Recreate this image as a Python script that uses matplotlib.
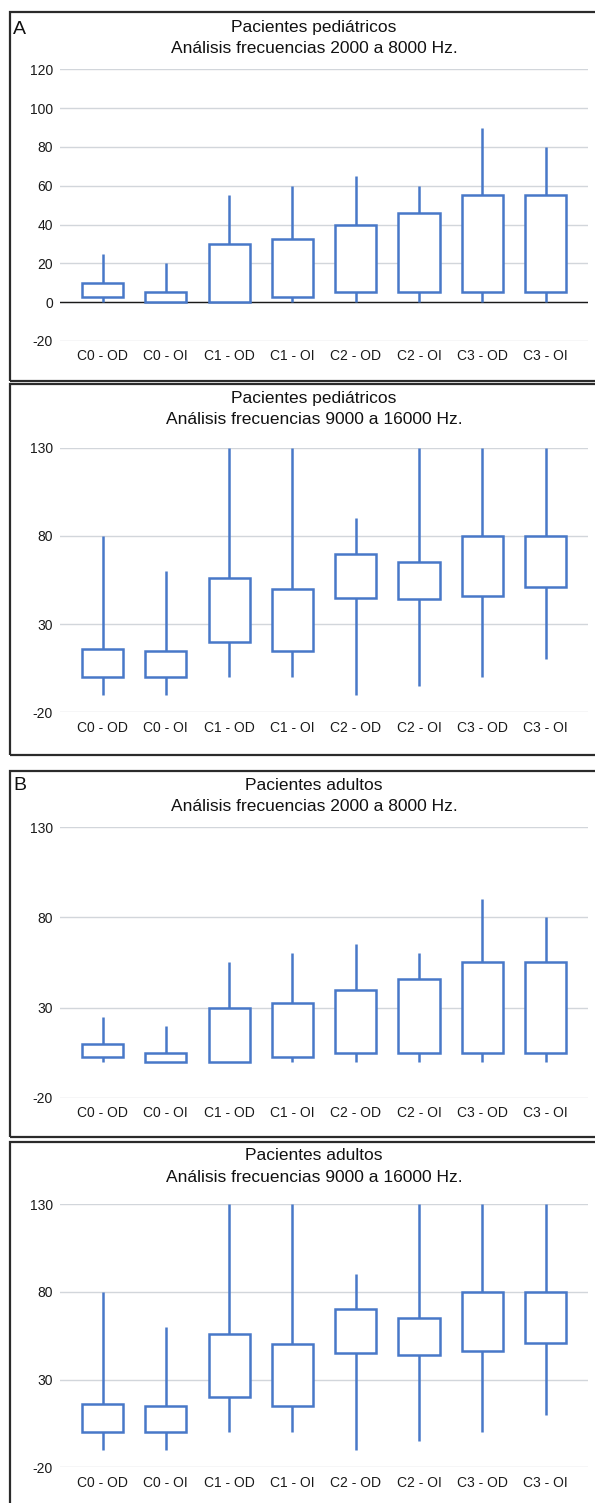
import matplotlib
matplotlib.use("Agg")
import matplotlib.pyplot as plt
from matplotlib.patches import Rectangle

plt.rcParams['font.family'] = ['Liberation Sans', 'DejaVu Sans']

categories = ["C0 - OD", "C0 - OI", "C1 - OD", "C1 - OI", "C2 - OD", "C2 - OI", "C3 - OD", "C3 - OI"]

# Pediatric 2000-8000 Hz
ped_lo_min = [0, 0, 0, 0, 0, 0, 0, 0]
ped_lo_q1 = [2.5, 0, 0, 2.5, 5, 5, 5, 5]
ped_lo_q3 = [10, 5, 30, 32.5, 40, 46, 55, 55]
ped_lo_max = [25, 20, 55, 60, 65, 60, 90, 80]

# Pediatric 9000-16000 Hz
ped_hi_min = [-10, -10, 0, 0, -10, -5, 0, 10]
ped_hi_q1 = [0, 0, 20, 15, 45, 44, 46, 51]
ped_hi_q3 = [16, 15, 56, 50, 70, 65, 80, 80]
ped_hi_max = [80, 60, 130, 130, 90, 130, 130, 130]

# Adult 2000-8000 Hz
adu_lo_min = [0, 0, 0, 0, 0, 0, 0, 0]
adu_lo_q1 = [2.5, 0, 0, 2.5, 5, 5, 5, 5]
adu_lo_q3 = [10, 5, 30, 32.5, 40, 46, 55, 55]
adu_lo_max = [25, 20, 55, 60, 65, 60, 90, 80]

# Adult 9000-16000 Hz
adu_hi_min = [-10, -10, 0, 0, -10, -5, 0, 10]
adu_hi_q1 = [0, 0, 20, 15, 45, 44, 46, 51]
adu_hi_q3 = [16, 15, 56, 50, 70, 65, 80, 80]
adu_hi_max = [80, 60, 130, 130, 90, 130, 130, 130]

ticks_a = [-20, 0, 20, 40, 60, 80, 100, 120]
ticks_b = [-20, 30, 80, 130]

W, H = 595, 1503
DPI = 100
fig = plt.figure(figsize=(W / DPI, H / DPI), dpi=DPI)
fig.patch.set_facecolor("white")

BLUE = "#4878C8"
GRID = "#d2d6db"

def fx(px):
    return px / W

def fy(py):
    return 1 - py / H

panels = [
    dict(top=69.3, bottom=341.0, ticks=ticks_a, zero=True,
         data=(ped_lo_min, ped_lo_q1, ped_lo_q3, ped_lo_max),
         t1="Pacientes pediátricos", t2="Análisis frecuencias 2000 a 8000 Hz.",
         t1y=27.5, t2y=48.5, label="A", ly=30),
    dict(top=447.7, bottom=712.3, ticks=ticks_b, zero=False,
         data=(ped_hi_min, ped_hi_q1, ped_hi_q3, ped_hi_max),
         t1="Pacientes pediátricos", t2="Análisis frecuencias 9000 a 16000 Hz.",
         t1y=398.5, t2y=420, label=None, ly=None),
    dict(top=827.3, bottom=1097.7, ticks=ticks_b, zero=False,
         data=(adu_lo_min, adu_lo_q1, adu_lo_q3, adu_lo_max),
         t1="Pacientes adultos", t2="Análisis frecuencias 2000 a 8000 Hz.",
         t1y=785, t2y=806.7, label="B", ly=785),
    dict(top=1204.0, bottom=1467.3, ticks=ticks_b, zero=False,
         data=(adu_hi_min, adu_hi_q1, adu_hi_q3, adu_hi_max),
         t1="Pacientes adultos", t2="Análisis frecuencias 9000 a 16000 Hz.",
         t1y=1156, t2y=1177.7, label=None, ly=None),
]

# panel borders (px): left, top, bottom
borders = [(10, 12, 381), (10, 384, 755), (10, 771, 1137), (10, 1142, 1520)]
for (l, t, b) in borders:
    fig.add_artist(Rectangle((fx(l), fy(b)), fx(620 - l), (b - t) / H,
                             transform=fig.transFigure, fill=False,
                             edgecolor="#2b2b2b", linewidth=1.6, clip_on=False))

x_left, x_right = 60, 588
c0, step = 102.5, 63.3
xlim = (-(c0 - x_left) / step, 7 + (x_right - (c0 + 7 * step)) / step)
xs = list(range(len(categories)))

for p in panels:
    ax = fig.add_axes([fx(x_left), fy(p["bottom"]), fx(x_right - x_left),
                       (p["bottom"] - p["top"]) / H])
    ax.set_xlim(*xlim)
    ax.set_ylim(p["ticks"][0], p["ticks"][-1])
    for s in ax.spines.values():
        s.set_visible(False)
    ax.set_yticks(p["ticks"])
    ax.set_yticklabels([str(t) for t in p["ticks"]])
    ax.set_xticks(xs)
    ax.set_xticklabels(categories)
    ax.tick_params(axis="both", length=0, labelsize=10, colors="#1a1a1a")
    ax.tick_params(axis="x", pad=6)
    ax.tick_params(axis="y", pad=5)
    ax.grid(axis="y", color=GRID, linewidth=1.0)
    ax.set_axisbelow(True)
    if p["zero"]:
        ax.axhline(0, color="#1a1a1a", linewidth=1.0, zorder=1.5)
    mn, q1, q3, mx = p["data"]
    ax.vlines(xs, mn, q1, color=BLUE, linewidth=1.8, zorder=2)
    ax.vlines(xs, q3, mx, color=BLUE, linewidth=1.8, zorder=2)
    heights = [b - a for a, b in zip(q1, q3)]
    ax.bar(xs, heights, bottom=q1, width=0.65, facecolor="white",
           edgecolor=BLUE, linewidth=1.8, zorder=3)
    fig.text(fx(314), fy(p["t1y"]), p["t1"], ha="center", va="center",
             fontsize=12.5, color="#111111")
    fig.text(fx(314), fy(p["t2y"]), p["t2"], ha="center", va="center",
             fontsize=12.5, color="#111111")
    if p["label"]:
        fig.text(fx(13), fy(p["ly"]), p["label"], ha="left", va="center",
                 fontsize=14, color="#111111")

fig.savefig("out.png", dpi=DPI, facecolor="white")
